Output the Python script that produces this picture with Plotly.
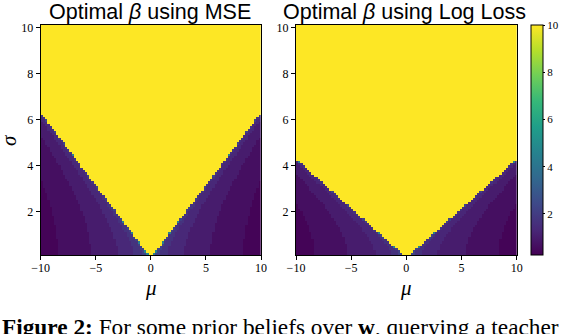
import numpy as np
import plotly.graph_objects as go

# cell centres of the two maps (100 x 100 cells)
mu = np.linspace(-9.9, 9.9, 100)
sigma = np.linspace(0.17, 10.07, 100)

# slope sigma/|mu| of the edge of the yellow (beta = 10) region
mse_slope = 0.63
logloss_slope = 0.43

# bands below that edge: distance from the edge and the beta read there
mse_band_edges = [0.3, 0.7, 1.5, 3.0, 5.4, 8.4]
mse_band_beta = [4.5, 2.2, 1.7, 1.35, 1.0, 0.65, 0.35]
logloss_band_edges = [0.25, 0.6, 1.3, 2.8, 5.3, 8.3]
logloss_band_beta = [4.5, 2.2, 1.65, 1.3, 1.0, 0.65, 0.35]

beta_max = 10
beta_min = 0.26

titles = ["Optimal <i>β</i> using MSE", "Optimal <i>β</i> using Log Loss"]
xticks = [-10, -5, 0, 5, 10]
xticklabels = ["−10", "−5", "0", "5", "10"]
yticks = [2, 4, 6, 8, 10]
caption = "<b>Figure 2:</b> For some prior beliefs over <b>w</b>, querying a teacher"

W, H = 564, 334


def beta_map(slope, edges, betas):
    m, s = np.meshgrid(mu, sigma)
    d2 = m ** 2 - (s / slope) ** 2
    d = np.sqrt(np.clip(d2, 0, None))
    z = np.array(betas)[np.digitize(d, edges)]
    z[d2 <= 0] = beta_max
    return z


def px_x(p):
    return p / W


def px_y(p):
    return 1 - p / H


serif = "Liberation Serif"
sans = "Liberation Sans"

fig = go.Figure()
fig.add_trace(go.Heatmap(
    x=mu, y=sigma, z=beta_map(mse_slope, mse_band_edges, mse_band_beta),
    colorscale="Viridis", zmin=beta_min, zmax=beta_max, showscale=False,
    xaxis="x", yaxis="y"))
fig.add_trace(go.Heatmap(
    x=mu, y=sigma, z=beta_map(logloss_slope, logloss_band_edges, logloss_band_beta),
    colorscale="Viridis", zmin=beta_min, zmax=beta_max, showscale=True,
    xaxis="x2", yaxis="y2",
    colorbar=dict(
        x=px_x(531), xanchor="left", xpad=0, thickness=12,
        y=px_y(255), yanchor="bottom", ypad=0, len=230 / H, lenmode="fraction",
        tickvals=yticks, ticks="outside", ticklen=2, tickcolor="black",
        outlinewidth=1, outlinecolor="black",
        tickfont=dict(family=serif, size=11, color="black"))))

axis_style = dict(showline=True, mirror=True, linecolor="black", linewidth=1,
                  ticks="outside", ticklen=4, tickcolor="black", showgrid=False,
                  zeroline=False, tickfont=dict(family=serif, size=12, color="black"))
x_dom = [[px_x(40.7), px_x(261)], [px_x(296), px_x(516.7)]]
y_dom = [px_y(255), px_y(25)]
title_x = [px_x(149.5), px_x(404.5)]

fig.update_layout(
    width=W, height=H, margin=dict(l=0, r=0, t=0, b=0, autoexpand=False),
    paper_bgcolor="white", plot_bgcolor="white",
    xaxis=dict(domain=x_dom[0], range=[-10, 10], tickvals=xticks,
               ticktext=xticklabels, anchor="y", ticklabelstandoff=-2, **axis_style),
    yaxis=dict(domain=y_dom, range=[0.12, 10.12], tickvals=yticks,
               anchor="x", **axis_style),
    xaxis2=dict(domain=x_dom[1], range=[-10, 10], tickvals=xticks,
                ticktext=xticklabels, anchor="y2", ticklabelstandoff=-2, **axis_style),
    yaxis2=dict(domain=y_dom, range=[0.12, 10.12], tickvals=yticks,
                anchor="x2", **axis_style),
)

for i, t in enumerate(titles):
    fig.add_annotation(x=title_x[i], y=px_y(12), xref="paper", yref="paper",
                       text=t, showarrow=False, xanchor="center", yanchor="middle",
                       font=dict(family=sans, size=21.5, color="black"))
    fig.add_annotation(x=sum(x_dom[i]) / 2, y=px_y(288), xref="paper", yref="paper",
                       text="<i>μ</i>", showarrow=False, xanchor="center",
                       yanchor="middle", font=dict(family=serif, size=21, color="black"))

fig.add_annotation(x=px_x(9), y=px_y(140), xref="paper", yref="paper",
                   text="<i>σ</i>", showarrow=False, textangle=-90,
                   xanchor="center", yanchor="middle",
                   font=dict(family=serif, size=21, color="black"))

fig.add_annotation(x=px_x(0), y=px_y(312), xref="paper", yref="paper",
                   text=caption, showarrow=False, xanchor="left", yanchor="top",
                   font=dict(family=serif, size=23.3, color="black"))

# the page's default body margin would shift the figure by 8px
fig.write_html("out.html", config={"displayModeBar": False},
               post_script="document.body.style.margin = '0';")
